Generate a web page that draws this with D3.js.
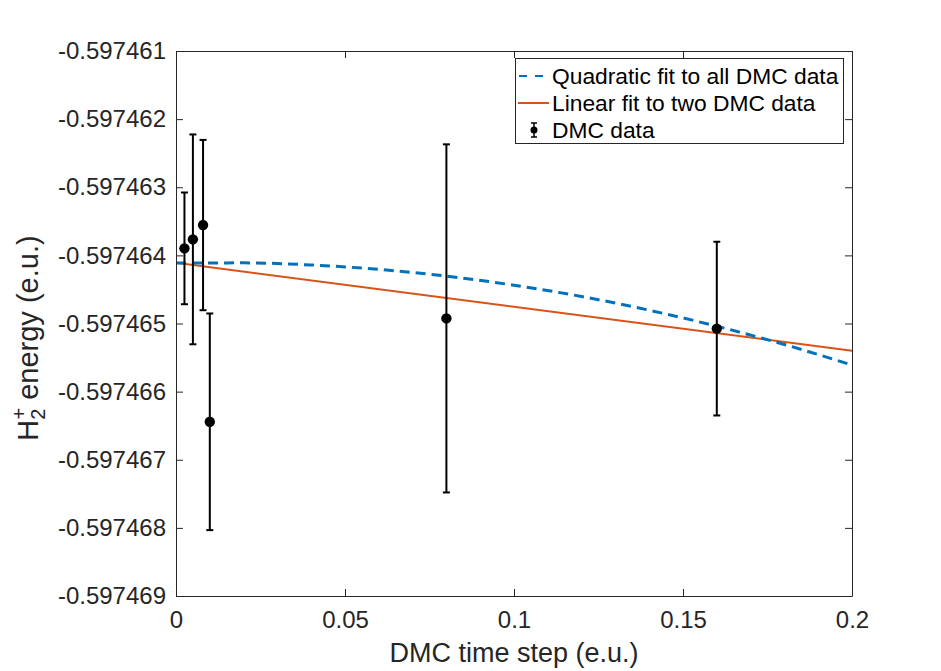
<!DOCTYPE html>
<html>
<head>
<meta charset="utf-8">
<script src="https://cdn.jsdelivr.net/npm/d3@7"></script>
<style>
  body { margin: 0; background: #fff; }
  svg { display: block; font-family: "Liberation Sans", Arial, Helvetica, sans-serif; }
</style>
</head>
<body>
<div id="chart"></div>
<script>
// DMC data points: time step, energy, error bar half-width
const timeSteps = [0.0025, 0.005, 0.008, 0.01, 0.08, 0.16];
const energies = [-0.597463897, -0.597463765, -0.597463555, -0.597466443, -0.597464925, -0.597465075];
const errors = [0.82e-6, 1.54e-6, 1.25e-6, 1.59e-6, 2.555e-6, 1.275e-6];

// quadratic fit curve
const quadT = [0, 0.02, 0.04, 0.06, 0.08, 0.1, 0.12, 0.14, 0.16, 0.18, 0.2];
const quadE = [-0.597464113, -0.597464110, -0.597464141, -0.597464206, -0.597464304, -0.597464438,
               -0.597464604, -0.597464805, -0.597465040, -0.597465308, -0.597465611];

// linear fit line end points
const linT = [0, 0.2];
const linE = [-0.597464108, -0.597465401];

const xTicks = [0, 0.05, 0.1, 0.15, 0.2];
const xTickLabels = ["0", "0.05", "0.1", "0.15", "0.2"];
const yTicks = [-0.597461, -0.597462, -0.597463, -0.597464, -0.597465, -0.597466, -0.597467, -0.597468, -0.597469];
const yTickLabels = ["-0.597461", "-0.597462", "-0.597463", "-0.597464", "-0.597465", "-0.597466", "-0.597467", "-0.597468", "-0.597469"];

const legendLabels = ["Quadratic fit to all DMC data", "Linear fit to two DMC data", "DMC data"];

const width = 941;
const height = 671;
const margin = { top: 51, right: 89, bottom: 75, left: 176 };
const axisColor = "#262626";
const blue = "#0072BD";
const orange = "#D95319";

const svg = d3.select("#chart")
    .append("svg")
    .attr("width", width)
    .attr("height", height);

const x = d3.scaleLinear()
    .domain([0, 0.2])
    .range([margin.left, width - margin.right]);

const y = d3.scaleLinear()
    .domain([-0.597469, -0.597461])
    .range([height - margin.bottom, margin.top]);

// Plot area
svg.append("rect")
    .attr("x", margin.left)
    .attr("y", margin.top)
    .attr("width", width - margin.left - margin.right)
    .attr("height", height - margin.top - margin.bottom)
    .attr("fill", "#fff");

// Fit lines
const quadData = quadT.map((t, i) => ({ t: t, e: quadE[i] }));
const linData = linT.map((t, i) => ({ t: t, e: linE[i] }));

const line = d3.line()
    .x(d => x(d.t))
    .y(d => y(d.e))
    .curve(d3.curveMonotoneX);

svg.append("path")
    .datum(linData)
    .attr("d", line)
    .attr("fill", "none")
    .attr("stroke", orange)
    .attr("stroke-width", 2);

svg.append("path")
    .datum(quadData)
    .attr("d", line)
    .attr("fill", "none")
    .attr("stroke", blue)
    .attr("stroke-width", 3)
    .attr("stroke-dasharray", "10,6");

// Error bars
const points = timeSteps.map((t, i) => ({ t: t, e: energies[i], err: errors[i] }));
const capW = 3.5;

const bars = svg.append("g")
    .attr("stroke", "#000")
    .attr("stroke-width", 2);

bars.selectAll(".bar")
    .data(points)
    .join("line")
    .attr("class", "bar")
    .attr("x1", d => x(d.t))
    .attr("x2", d => x(d.t))
    .attr("y1", d => y(d.e + d.err))
    .attr("y2", d => y(d.e - d.err));

bars.selectAll(".cap-top")
    .data(points)
    .join("line")
    .attr("class", "cap-top")
    .attr("x1", d => x(d.t) - capW)
    .attr("x2", d => x(d.t) + capW)
    .attr("y1", d => y(d.e + d.err))
    .attr("y2", d => y(d.e + d.err));

bars.selectAll(".cap-bot")
    .data(points)
    .join("line")
    .attr("class", "cap-bot")
    .attr("x1", d => x(d.t) - capW)
    .attr("x2", d => x(d.t) + capW)
    .attr("y1", d => y(d.e - d.err))
    .attr("y2", d => y(d.e - d.err));

svg.selectAll(".dot")
    .data(points)
    .join("circle")
    .attr("class", "dot")
    .attr("cx", d => x(d.t))
    .attr("cy", d => y(d.e))
    .attr("r", 5.2)
    .attr("fill", "#000");

// Axes (ticks point inward, mirrored on top and right)
const tickLen = 7;

svg.append("g")
    .attr("transform", `translate(0,${height - margin.bottom})`)
    .call(d3.axisBottom(x).tickValues(xTicks).tickSizeInner(-tickLen).tickSizeOuter(0)
        .tickFormat((d, i) => xTickLabels[i]).tickPadding(15))
    .call(g => g.selectAll("text").attr("font-size", 24).attr("fill", axisColor))
    .call(g => g.selectAll("line, path").attr("stroke", axisColor));

svg.append("g")
    .attr("transform", `translate(0,${margin.top})`)
    .call(d3.axisTop(x).tickValues(xTicks).tickSizeInner(-tickLen).tickSizeOuter(0).tickFormat(""))
    .call(g => g.selectAll("line, path").attr("stroke", axisColor));

svg.append("g")
    .attr("transform", `translate(${margin.left},0)`)
    .call(d3.axisLeft(y).tickValues(yTicks).tickSizeInner(-tickLen).tickSizeOuter(0)
        .tickFormat((d, i) => yTickLabels[i]).tickPadding(10))
    .call(g => g.selectAll("text").attr("font-size", 24).attr("fill", axisColor))
    .call(g => g.selectAll("line, path").attr("stroke", axisColor));

svg.append("g")
    .attr("transform", `translate(${width - margin.right},0)`)
    .call(d3.axisRight(y).tickValues(yTicks).tickSizeInner(-tickLen).tickSizeOuter(0).tickFormat(""))
    .call(g => g.selectAll("line, path").attr("stroke", axisColor));

svg.selectAll(".domain").attr("fill", "none");

// Axis labels
svg.append("text")
    .attr("x", (margin.left + width - margin.right) / 2)
    .attr("y", 662)
    .attr("text-anchor", "middle")
    .attr("font-size", 27)
    .attr("fill", axisColor)
    .text("DMC time step (e.u.)");

const yLabel = svg.append("text")
    .attr("transform", `translate(38,338) rotate(-90)`)
    .attr("text-anchor", "middle")
    .attr("font-size", 29)
    .attr("fill", axisColor);
yLabel.append("tspan").text("H");
yLabel.append("tspan").attr("font-size", 20).attr("dy", 7).text("2");
yLabel.append("tspan").attr("font-size", 20).attr("dx", -11).attr("dy", -19).text("+");
yLabel.append("tspan").attr("dy", 12).text(" energy (e.u.)");

// Legend
const legend = svg.append("g");
legend.append("rect")
    .attr("x", 515.5)
    .attr("y", 58.5)
    .attr("width", 328)
    .attr("height", 85)
    .attr("fill", "#fff")
    .attr("stroke", axisColor)
    .attr("stroke-width", 1);

const rowY = [76, 103, 130];

legend.append("line")
    .attr("x1", 518).attr("x2", 549)
    .attr("y1", rowY[0]).attr("y2", rowY[0])
    .attr("stroke", blue).attr("stroke-width", 2)
    .attr("stroke-dasharray", "8,8").attr("stroke-dashoffset", -1);

legend.append("line")
    .attr("x1", 518).attr("x2", 549)
    .attr("y1", rowY[1]).attr("y2", rowY[1])
    .attr("stroke", orange).attr("stroke-width", 2);

const eb = legend.append("g").attr("stroke", "#000").attr("stroke-width", 1.5);
eb.append("line").attr("x1", 534).attr("x2", 534).attr("y1", rowY[2] - 7).attr("y2", rowY[2] + 7);
eb.append("line").attr("x1", 531).attr("x2", 537).attr("y1", rowY[2] - 7).attr("y2", rowY[2] - 7);
eb.append("line").attr("x1", 531).attr("x2", 537).attr("y1", rowY[2] + 7).attr("y2", rowY[2] + 7);
legend.append("circle").attr("cx", 534).attr("cy", rowY[2]).attr("r", 3.5).attr("fill", "#000");

legend.selectAll(".legend-label")
    .data(legendLabels)
    .join("text")
    .attr("class", "legend-label")
    .attr("x", 552)
    .attr("y", (d, i) => rowY[i])
    .attr("dy", "0.35em")
    .attr("font-size", 22.8)
    .attr("fill", "#000")
    .text(d => d);
</script>
</body>
</html>
